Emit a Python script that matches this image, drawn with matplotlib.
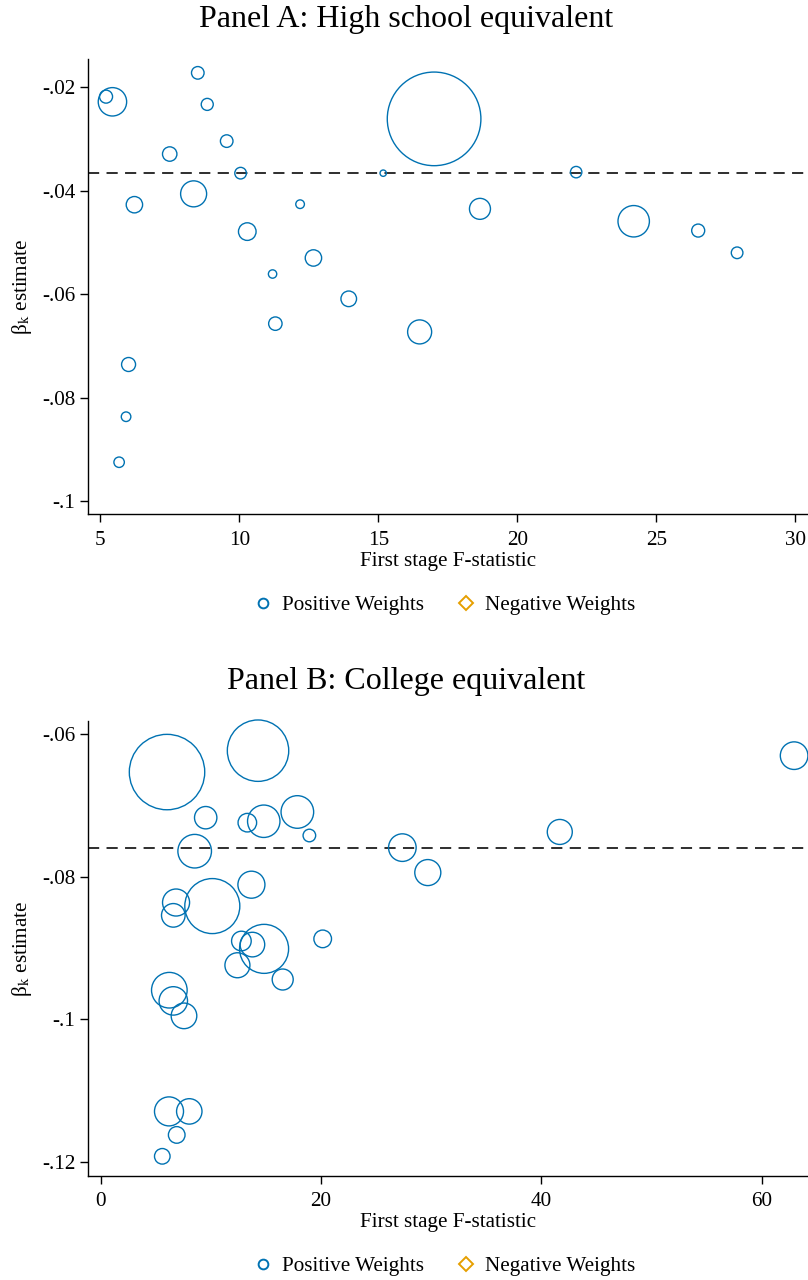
import matplotlib
matplotlib.use("Agg")
import matplotlib.pyplot as plt
from matplotlib.lines import Line2D
import numpy as np

# ---------------- data ----------------
# Panel A: High school equivalent
fstat_a = [5.20, 5.43, 8.50, 8.84, 9.54, 7.49, 10.04, 8.35, 6.22, 12.18, 10.28, 12.66, 11.19,
           13.93, 11.29, 15.17, 17.00, 22.11, 18.65, 24.18, 26.50, 27.90, 16.48, 6.01, 5.92, 5.67]
beta_a = [-0.0218, -0.0228, -0.0172, -0.0233, -0.0304, -0.0329, -0.0366, -0.0406, -0.0427,
          -0.0426, -0.0479, -0.0530, -0.0561, -0.0609, -0.0657, -0.0366, -0.0261, -0.0364,
          -0.0435, -0.0459, -0.0477, -0.0520, -0.0673, -0.0736, -0.0837, -0.0925]
weight_a = [1.09, 5.20, 1.02, 0.93, 1.02, 1.34, 0.87, 4.36, 1.73, 0.48, 2.00, 1.73, 0.45,
            1.57, 1.16, 0.26, 56.51, 0.84, 2.84, 6.36, 1.09, 0.87, 3.72, 1.26, 0.59, 0.70]
beta_bar_a = -0.0366

# Panel B: College equivalent
fstat_b = [6.02, 14.28, 9.53, 13.31, 14.80, 17.85, 18.94, 8.53, 27.38, 29.69, 41.67, 62.94,
           20.15, 13.68, 6.84, 10.13, 6.59, 12.77, 13.77, 14.83, 12.41, 16.52, 6.23, 6.59,
           7.56, 6.20, 8.04, 6.90, 5.59]
beta_b = [-0.0653, -0.0623, -0.0717, -0.0724, -0.0722, -0.0709, -0.0742, -0.0764, -0.0759,
          -0.0794, -0.0737, -0.0630, -0.0887, -0.0811, -0.0836, -0.0841, -0.0854, -0.0890,
          -0.0895, -0.0901, -0.0924, -0.0944, -0.0959, -0.0974, -0.0995, -0.1129, -0.1129,
          -0.1162, -0.1192]
weight_b = [18.30, 12.13, 1.61, 1.11, 3.38, 3.42, 0.51, 3.63, 2.45, 2.18, 2.01, 2.45, 1.00,
            2.35, 2.35, 9.74, 1.79, 1.24, 1.95, 7.73, 2.01, 1.42, 4.08, 2.60, 2.11, 2.71,
            2.08, 0.89, 0.78]
beta_bar_b = -0.0760

xticks_a = [5, 10, 15, 20, 25, 30]
yticks_a = [-0.02, -0.04, -0.06, -0.08, -0.10]
yticklabels_a = ["-.02", "-.04", "-.06", "-.08", "-.1"]
xticks_b = [0, 20, 40, 60]
yticks_b = [-0.06, -0.08, -0.10, -0.12]
yticklabels_b = ["-.06", "-.08", "-.1", "-.12"]

titles = ["Panel A: High school equivalent", "Panel B: College equivalent"]
xlabel = "First stage F-statistic"
ylabel = r"β$_{\mathrm{k}}$ estimate"
legend_labels = ["Positive Weights", "Negative Weights"]

# ---------------- style ----------------
BLUE = "#0072B2"
ORANGE = "#E69F00"
plt.rcParams["font.family"] = ["Liberation Serif", "DejaVu Serif"]
plt.rcParams["mathtext.fontset"] = "stix"

W, H = 808, 1280
fig = plt.figure(figsize=(W / 100, H / 100), dpi=100)


def px_axes(left, top, right, bottom):
    return fig.add_axes([left / W, 1 - bottom / H, (right - left) / W, (bottom - top) / H])


ax_a = px_axes(87.7, 59.3, 808, 514.3)
ax_b = px_axes(87.7, 721.3, 808, 1175.7)

panels = [
    (ax_a, fstat_a, beta_a, weight_a, beta_bar_a, 80.4, (4.54, 30.45), (-0.10257, -0.01458),
     xticks_a, yticks_a, yticklabels_a),
    (ax_b, fstat_b, beta_b, weight_b, beta_bar_b, 161.1, (-1.18, 64.2), (-0.12192, -0.05818),
     xticks_b, yticks_b, yticklabels_b),
]

FS = 15.2
for (ax, fx, by, wt, bbar, scale, xl, yl, xt, yt, ytl) in panels:
    ax.scatter(fx, by, s=np.array(wt) * scale, facecolors="none", edgecolors=BLUE,
               linewidths=1.0, zorder=3, clip_on=False)
    ax.axhline(bbar, color="black", lw=1.15, ls=(0, (7, 4.6)), zorder=2)
    ax.set_xlim(*xl)
    ax.set_ylim(*yl)
    ax.set_xticks(xt)
    ax.set_xticklabels([str(v) for v in xt])
    ax.set_yticks(yt)
    ax.set_yticklabels(ytl)
    for s in ("top", "right"):
        ax.spines[s].set_visible(False)
    for s in ("left", "bottom"):
        ax.spines[s].set_linewidth(1.0)
    ax.tick_params(direction="out", length=5.5, width=1.0, labelsize=FS)
    ax.tick_params(axis="x", pad=6.5)
    ax.tick_params(axis="y", pad=3.5)
    ax.set_xlabel(xlabel, fontsize=FS, labelpad=1.5)
    ax.set_ylabel(ylabel, fontsize=FS)
    ax.yaxis.set_label_coords(-0.074, 0.5)
    handles = [
        Line2D([], [], ls="none", marker="o", ms=7, mfc="none", mec=BLUE, mew=1.4),
        Line2D([], [], ls="none", marker="D", ms=7.5, mfc="none", mec=ORANGE, mew=1.4),
    ]
    ax.legend(handles, legend_labels, loc="center", bbox_to_anchor=(0.4926, -0.2),
              ncol=2, frameon=False, fontsize=FS, handletextpad=0.3, columnspacing=1.4,
              handlelength=1.2)

fig.text(406 / W, 1 - 19 / H, titles[0], ha="center", va="center", fontsize=23)
fig.text(406 / W, 1 - 682 / H, titles[1], ha="center", va="center", fontsize=23)

fig.savefig("out.png", dpi=100, facecolor="white")
